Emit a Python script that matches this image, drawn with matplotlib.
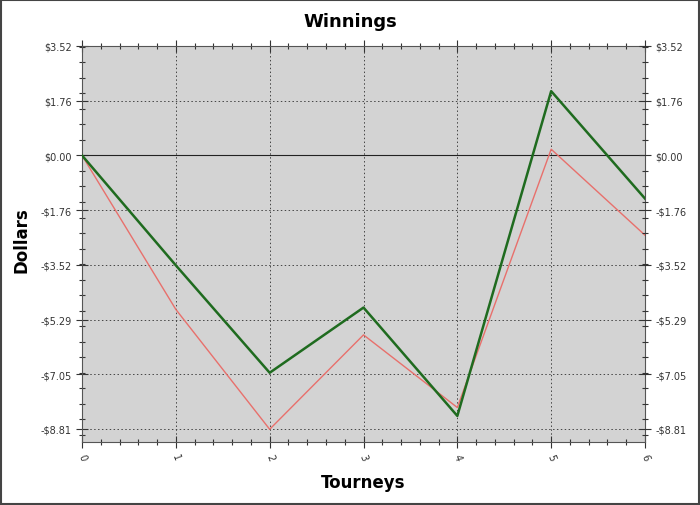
import matplotlib
matplotlib.use('Agg')
import matplotlib.pyplot as plt
from matplotlib.ticker import MultipleLocator, FixedLocator

# données
tourneys = [0, 1, 2, 3, 4, 5, 6]
green_vals = [0.00, -3.54, -7.00, -4.90, -8.39, 2.07, -1.39]
red_vals = [0.00, -4.96, -8.82, -5.78, -8.12, 0.20, -2.57]
ytick_vals = [3.524, 1.762, 0.0, -1.762, -3.524, -5.286, -7.048, -8.81]
ytick_labels = ['$3.52', '$1.76', '$0.00', '-$1.76', '-$3.52', '-$5.29', '-$7.05', '-$8.81']

fig = plt.figure(figsize=(7, 5.06), dpi=100)
ax = fig.add_axes([82/700, 63/506, 563/700, 396/506])
ax.set_facecolor('#d3d3d3')

ax.axhline(0, color='#222222', lw=0.8, zorder=2)
ax.plot(tourneys, red_vals, color='#e8706c', lw=1.0, zorder=3)
ax.plot(tourneys, green_vals, color='#1f6b1f', lw=1.8, zorder=4)

ax.set_xlim(0, 6)
ax.set_ylim(-9.23, 3.524)
ax.set_xticks(tourneys)
ax.set_xticklabels([str(t) for t in tourneys], rotation=-70, fontsize=7, color='#333333')
ax.xaxis.set_minor_locator(MultipleLocator(0.2))
ax.yaxis.set_major_locator(FixedLocator(ytick_vals))
ax.set_yticklabels(ytick_labels, fontsize=7, color='#333333')
ax.yaxis.set_minor_locator(MultipleLocator(0.5))
ax.tick_params(which='both', direction='inout', color='#333333', top=True, right=True)
ax.tick_params(which='major', length=8, width=0.8)
ax.tick_params(which='minor', length=5, width=0.8)

ax.grid(True, which='major', linestyle=(0, (1.5, 2.5)), color='#444444', lw=0.7)
for s in ax.spines.values():
    s.set_color('#555555')
    s.set_linewidth(0.8)

# axe de droite avec les mêmes étiquettes
ax2 = ax.twinx()
ax2.set_ylim(ax.get_ylim())
ax2.yaxis.set_major_locator(FixedLocator(ytick_vals))
ax2.set_yticklabels(ytick_labels, fontsize=7, color='#333333')
ax2.yaxis.set_minor_locator(MultipleLocator(0.5))
ax2.tick_params(which='both', direction='inout', color='#333333')
ax2.tick_params(which='major', length=8, width=0.8)
ax2.tick_params(which='minor', length=5, width=0.8)
for s in ax2.spines.values():
    s.set_visible(False)

fig.text(0.5, 1 - 22/506, 'Winnings', ha='center', va='center', fontsize=13, fontweight='bold')
fig.text(22/700, 1 - 240/506, 'Dollars', ha='center', va='center', rotation=90, fontsize=12, fontweight='bold')
fig.text(363/700, 1 - 483/506, 'Tourneys', ha='center', va='center', fontsize=12, fontweight='bold')

# cadre autour de la figure
fig.patches.append(plt.Rectangle((0.001, 0.001), 0.997, 0.997, transform=fig.transFigure,
                                 fill=False, edgecolor='#444444', lw=1.5))

fig.savefig('out.png', dpi=100)
